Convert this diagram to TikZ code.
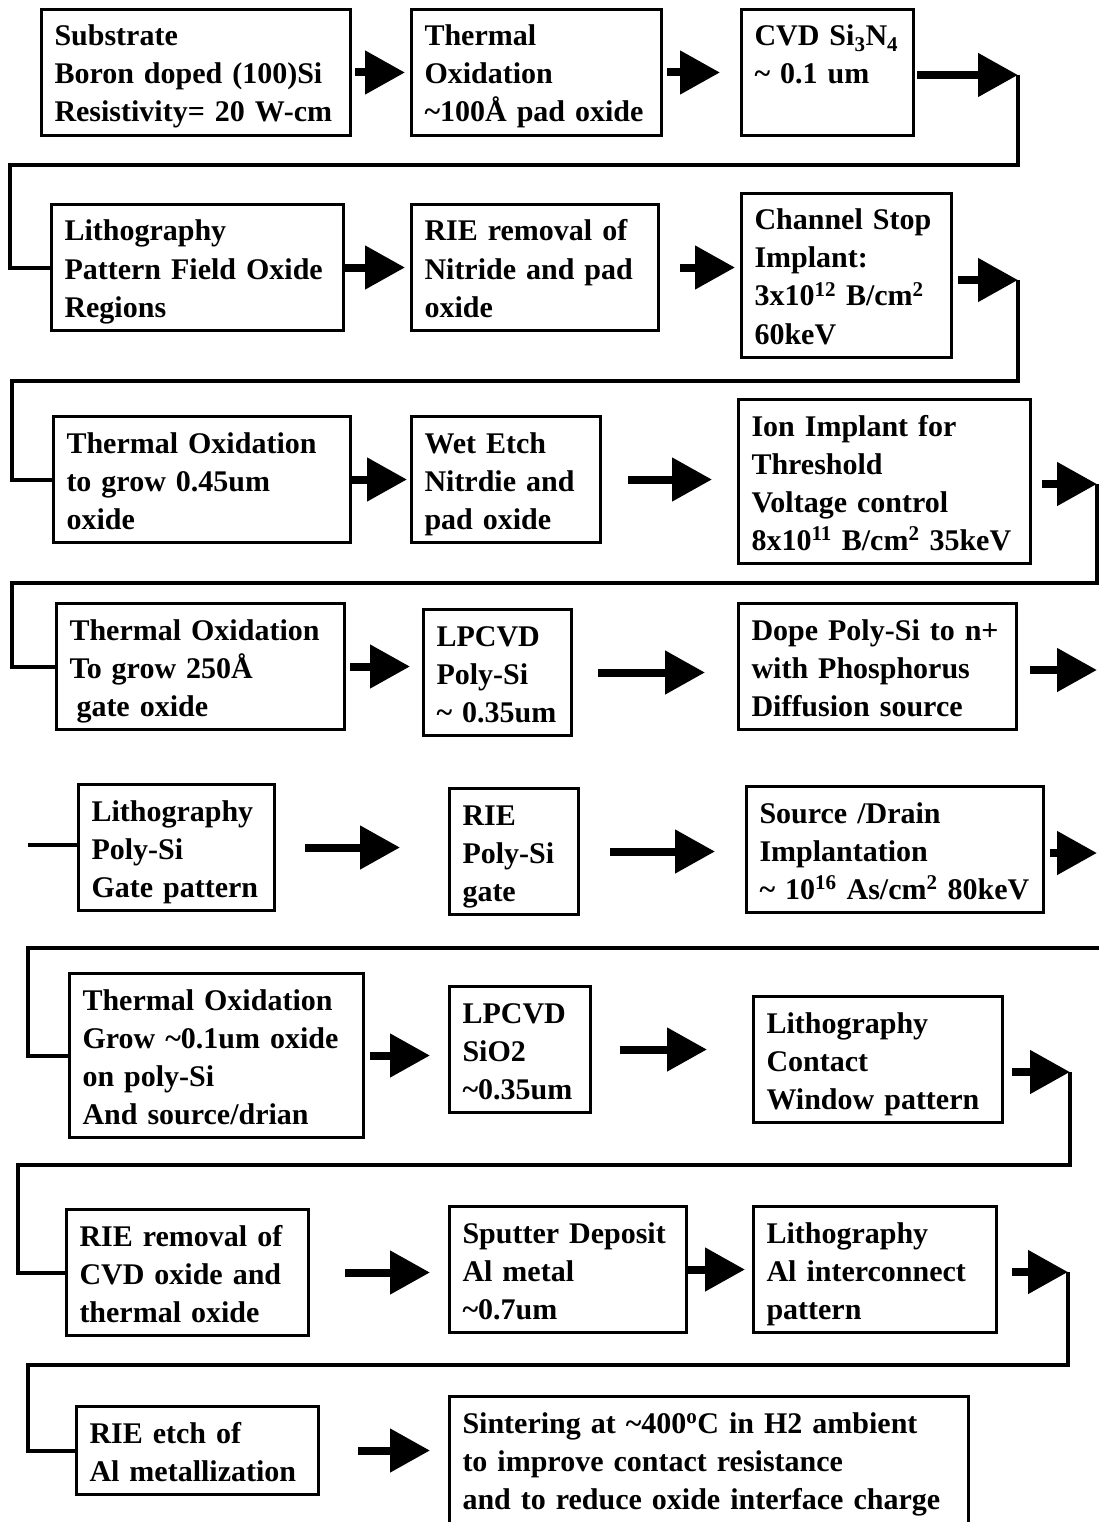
\documentclass[tikz,border=0pt]{standalone}
\usepackage{fontspec}
\setmainfont{Liberation Serif}
\usepackage{tikz}
\usetikzlibrary{arrows.meta}
\newcommand{\aprx}{\textasciitilde}
\newcommand{\firstln}{\rule{0pt}{30.5pt}}
\newcommand{\lastln}{\rule[-7.5pt]{0pt}{7.5pt}}
\tikzstyle{stepbox}=[draw=black,line width=3pt,anchor=north west,
                     align=left,inner xsep=13pt,inner ysep=6pt,
                     font=\fontsize{30}{38}\selectfont\bfseries,
                     execute at begin node=\firstln,
                     execute at end node=\lastln]
\tikzstyle{fatarrow}=[line width=8pt,-{Triangle[length=40pt,width=42pt]}]
\tikzstyle{wire}=[line width=4pt]

\begin{document}
\begin{tikzpicture}[x=1pt,y=-1pt]
  \clip (0,0) rectangle (1099,1522);
  \node (b1) at (40,8) [stepbox,text width=283pt]
    {Substrate\\Boron doped (100)Si\\Resistivity= 20 W-cm};
  \node (b2) at (410,8) [stepbox,text width=224pt]
    {Thermal\\Oxidation\\\aprx 100Å pad oxide};
  \node (b3) at (740,8) [stepbox,text width=146pt]
    {CVD Si\textsubscript{3}N\textsubscript{4}\\\aprx\ 0.1 um\\};
  \node (b4) at (50,203) [stepbox,text width=266pt]
    {Lithography\\Pattern Field Oxide\\Regions};
  \node (b5) at (410,203) [stepbox,text width=221pt]
    {RIE removal of\\Nitride and pad\\oxide};
  \node (b6) at (740,192) [stepbox,text width=184pt]
    {Channel Stop\\Implant:\\3x10\textsuperscript{12} B/cm\textsuperscript{2}\\60keV};
  \node (b7) at (52,415) [stepbox,text width=271pt]
    {Thermal Oxidation\\to grow 0.45um\\oxide};
  \node (b8) at (410,415) [stepbox,text width=163pt]
    {Wet Etch\\Nitrdie and\\pad oxide};
  \node (b9) at (737,398) [stepbox,text width=266pt]
    {Ion Implant for\\Threshold\\Voltage control\\8x10\textsuperscript{11} B/cm\textsuperscript{2} 35keV};
  \node (b10) at (55,602) [stepbox,text width=262pt]
    {Thermal Oxidation\\To grow 250Å\\\hspace*{7pt}gate oxide};
  \node (b11) at (422,608) [stepbox,text width=122pt]
    {LPCVD\\Poly-Si\\\aprx\ 0.35um};
  \node (b12) at (737,602) [stepbox,text width=252pt]
    {Dope Poly-Si to n+\\with Phosphorus\\Diffusion source};
  \node (b13) at (77,783) [stepbox,text width=170pt]
    {Lithography\\Poly-Si\\Gate pattern};
  \node (b14) at (448,787) [stepbox,text width=103pt]
    {RIE\\Poly-Si\\gate};
  \node (b15) at (745,785) [stepbox,text width=271pt]
    {Source /Drain\\Implantation\\\aprx\ 10\textsuperscript{16} As/cm\textsuperscript{2} 80keV};
  \node (b16) at (68,972) [stepbox,text width=268pt]
    {Thermal Oxidation\\Grow \aprx 0.1um oxide\\on poly-Si\\And source/drian};
  \node (b17) at (448,985) [stepbox,text width=115pt]
    {LPCVD\\SiO2\\\aprx 0.35um};
  \node (b18) at (752,995) [stepbox,text width=223pt]
    {Lithography\\Contact\\Window pattern};
  \node (b19) at (65,1208) [stepbox,text width=216pt]
    {RIE removal of\\CVD oxide and\\thermal oxide};
  \node (b20) at (448,1205) [stepbox,text width=211pt]
    {Sputter Deposit\\Al metal\\\aprx 0.7um};
  \node (b21) at (752,1205) [stepbox,text width=217pt]
    {Lithography\\Al interconnect\\pattern};
  \node (b22) at (75,1405) [stepbox,text width=216pt]
    {RIE etch of\\Al metallization};
  \node (b23) at (448,1395) [stepbox,text width=493pt]
    {Sintering at \aprx 400\textsuperscript{o}C in H2 ambient\\to improve contact resistance\\and to reduce oxide interface charge\\};

  \coordinate (e1) at (1018,75);
  \coordinate (e2) at (1018,280);
  \coordinate (e3) at (1097,484);
  \coordinate (e4) at (1097,670);
  \coordinate (e5) at (1097,853);
  \coordinate (e6) at (1070,1072);
  \coordinate (e7) at (1068,1272);
  \coordinate (c1) at (10,165);
  \coordinate (c2) at (12,381);
  \coordinate (c3) at (12,583);
  \coordinate (c4) at (28,845);
  \coordinate (c5) at (1099,948);
  \coordinate (c6) at (28,948);
  \coordinate (c7) at (18,1165);
  \coordinate (c8) at (28,1365);

  \draw[fatarrow,shorten <=3pt,shorten >=5pt] (b1.east) -- (b1.east -| b2.west);
  \draw[fatarrow,shorten <=4pt,shorten >=20pt] (b2.east) -- (b2.east -| b3.west);
  \draw[fatarrow,shorten <=2pt] (b3.east |- e1) -- (e1);
  \draw[fatarrow,shorten >=5pt] (b4.east) -- (b4.east -| b5.west);
  \draw[fatarrow,shorten <=20pt,shorten >=5pt] (b5.east) -- (b5.east -| b6.west);
  \draw[fatarrow,shorten <=5pt] (b6.east |- e2) -- (e2);
  \draw[fatarrow,shorten >=3pt] (b7.east) -- (b7.east -| b8.west);
  \draw[fatarrow,shorten <=26pt,shorten >=25pt] (b8.east) -- (b8.east -| b9.west);
  \draw[fatarrow,shorten <=10pt] (b9.east |- e3) -- (e3);
  \draw[fatarrow,shorten <=4pt,shorten >=12pt] (b10.east) -- (b10.east -| b11.west);
  \draw[fatarrow,shorten <=25pt,shorten >=32pt] (b11.east) -- (b11.east -| b12.west);
  \draw[fatarrow,shorten <=12pt] (b12.east |- e4) -- (e4);
  \draw[fatarrow,shorten <=29pt,shorten >=48pt] (b13.east) -- (b13.east -| b14.west);
  \draw[fatarrow,shorten <=30pt,shorten >=30pt] (b14.east) -- (b14.east -| b15.west);
  \draw[fatarrow,shorten <=5pt] (b15.east |- e5) -- (e5);
  \draw[fatarrow,shorten <=5pt,shorten >=18pt] (b16.east) -- (b16.east -| b17.west);
  \draw[fatarrow,shorten <=28pt,shorten >=45pt] (b17.east) -- (b17.east -| b18.west);
  \draw[fatarrow,shorten <=8pt] (b18.east |- e6) -- (e6);
  \draw[fatarrow,shorten <=35pt,shorten >=18pt] (b19.east) -- (b19.east -| b20.west);
  \draw[fatarrow,shorten >=7pt] (b20.east) -- (b20.east -| b21.west);
  \draw[fatarrow,shorten <=14pt] (b21.east |- e7) -- (e7);
  \draw[fatarrow,shorten <=38pt,shorten >=18pt] (b22.east) -- (b22.east -| b23.west);

  \draw[wire] (e1) |- (c1) |- (b4.west);
  \draw[wire] (e2) |- (c2) |- (b7.west);
  \draw[wire] (e3) |- (c3) |- (b10.west);
  \draw[wire] (c4) -- (c4 -| b13.west);
  \draw[wire] (c5) -- (c6) |- (b16.west);
  \draw[wire] (e6) |- (c7) |- (b19.west);
  \draw[wire] (e7) |- (c8) |- (b22.west);
\end{tikzpicture}
\end{document}
